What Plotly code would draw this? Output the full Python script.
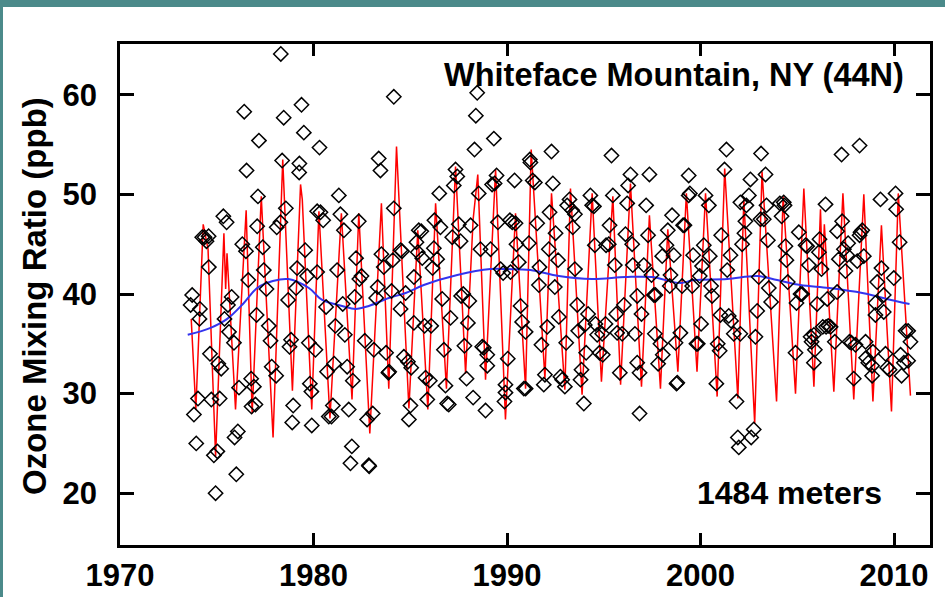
import plotly.graph_objects as go

# Monthly mean ozone observations (decimal year, ppb)
obs_year = [
    1973.65, 1973.73, 1973.82, 1973.94, 1974.03, 1974.11, 1974.13, 1974.25, 1974.37, 1974.47,
    1974.58, 1974.59, 1974.65, 1974.72, 1974.85, 1974.94, 1975.03, 1975.08, 1975.15, 1975.23,
    1975.34, 1975.40, 1975.51, 1975.58, 1975.63, 1975.77, 1975.89, 1975.92, 1976.01, 1976.09,
    1976.15, 1976.32, 1976.42, 1976.51, 1976.54, 1976.63, 1976.78, 1976.80, 1976.92, 1977.00,
    1977.06, 1977.09, 1977.13, 1977.18, 1977.38, 1977.43, 1977.57, 1977.69, 1977.78, 1977.84,
    1978.07, 1978.10, 1978.29, 1978.31, 1978.38, 1978.46, 1978.57, 1978.69, 1978.76, 1978.84,
    1978.90, 1978.95, 1979.10, 1979.15, 1979.26, 1979.27, 1979.38, 1979.50, 1979.57, 1979.67,
    1979.76, 1979.81, 1979.89, 1979.91, 1980.10, 1980.19, 1980.19, 1980.31, 1980.36, 1980.50,
    1980.65, 1980.70, 1980.79, 1980.93, 1981.00, 1981.07, 1981.13, 1981.22, 1981.31, 1981.39,
    1981.51, 1981.57, 1981.62, 1981.74, 1981.82, 1981.91, 1981.98, 1982.03, 1982.13, 1982.20,
    1982.34, 1982.37, 1982.48, 1982.65, 1982.77, 1982.86, 1982.88, 1983.06, 1983.12, 1983.24,
    1983.32, 1983.37, 1983.46, 1983.51, 1983.63, 1983.75, 1983.87, 1983.91, 1984.03, 1984.10,
    1984.15, 1984.15, 1984.50, 1984.58, 1984.50, 1984.76, 1984.67, 1984.88, 1985.05, 1985.01,
    1984.93, 1985.19, 1985.19, 1985.32, 1985.39, 1985.44, 1985.57, 1985.62, 1985.74, 1985.79,
    1985.88, 1986.01, 1986.08, 1986.15, 1986.22, 1986.25, 1986.39, 1986.50, 1986.56, 1986.65,
    1986.74, 1986.82, 1986.91, 1986.99, 1987.08, 1987.17, 1987.25, 1987.34, 1987.43, 1987.51,
    1987.60, 1987.63, 1987.74, 1987.80, 1987.91, 1987.98, 1988.05, 1988.12, 1988.25, 1988.32,
    1988.39, 1988.46, 1988.54, 1988.63, 1988.72, 1988.80, 1988.89, 1988.98, 1988.98, 1989.15,
    1989.23, 1989.32, 1989.36, 1989.46, 1989.53, 1989.67, 1989.80, 1989.87, 1989.92, 1989.92,
    1990.04, 1990.15, 1990.18, 1990.27, 1990.39, 1990.44, 1990.49, 1990.61, 1990.70, 1990.78,
    1990.87, 1990.96, 1990.96, 1991.13, 1991.18, 1991.21, 1991.33, 1991.44, 1991.56, 1991.65,
    1991.68, 1991.78, 1991.90, 1991.96, 1992.08, 1992.16, 1992.20, 1992.30, 1992.37, 1992.47,
    1992.51, 1992.64, 1992.68, 1992.76, 1992.85, 1992.99, 1993.06, 1993.11, 1993.23, 1993.37,
    1993.40, 1993.51, 1993.51, 1993.63, 1993.68, 1993.80, 1993.85, 1993.97, 1994.02, 1994.09,
    1994.19, 1994.31, 1994.40, 1994.49, 1994.54, 1994.57, 1994.66, 1994.78, 1994.92, 1994.95,
    1995.09, 1995.12, 1995.26, 1995.30, 1995.40, 1995.47, 1995.57, 1995.64, 1995.69, 1995.83,
    1995.95, 1996.04, 1996.12, 1996.21, 1996.26, 1996.38, 1996.47, 1996.50, 1996.61, 1996.73,
    1996.73, 1996.85, 1996.85, 1996.95, 1997.07, 1997.19, 1997.29, 1997.36, 1997.47, 1997.59,
    1997.64, 1997.67, 1997.81, 1997.93, 1998.02, 1998.05, 1998.24, 1998.31, 1998.41, 1998.45,
    1998.53, 1998.62, 1998.71, 1998.76, 1998.80, 1998.96, 1999.05, 1999.10, 1999.17, 1999.39,
    1999.39, 1999.45, 1999.57, 1999.62, 1999.79, 1999.86, 1999.96, 2000.03, 2000.08, 2000.17,
    2000.26, 2000.43, 2000.48, 2000.55, 2000.60, 2000.82, 2000.89, 2000.99, 2001.03, 2001.07,
    2001.24, 2001.34, 2001.38, 2001.46, 2001.55, 2001.58, 2001.72, 2001.86, 2001.93, 2001.98,
    2002.06, 2002.06, 2002.15, 2002.27, 2002.32, 2002.37, 2002.50, 2002.58, 2002.62, 2002.75,
    2002.84, 2002.93, 2003.01, 2003.10, 2003.13, 2003.27, 2003.36, 2003.41, 2003.48, 2003.53,
    2003.65, 2004.10, 2004.19, 2004.30, 2004.34, 2004.39, 2004.44, 2004.51, 2004.91, 2004.96,
    2005.08, 2005.17, 2005.25, 2005.43, 2005.51, 2005.60, 2005.69, 2005.74, 2005.86, 2005.91,
    2005.86, 2006.03, 2006.12, 2006.15, 2006.25, 2006.32, 2006.46, 2006.49, 2006.55, 2006.60,
    2006.72, 2006.94, 2007.06, 2007.06, 2007.15, 2007.29, 2007.32, 2007.41, 2007.49, 2007.58,
    2007.63, 2007.70, 2007.80, 2007.92, 2008.01, 2008.10, 2008.22, 2008.22, 2008.27, 2008.36,
    2008.44, 2008.53, 2008.56, 2008.67, 2008.87, 2008.87, 2008.91, 2009.04, 2009.04, 2009.13,
    2009.30, 2009.35, 2009.47, 2009.47, 2009.56, 2009.65, 2009.77, 2009.99, 2010.08, 2010.11,
    2010.29, 2010.34, 2010.39, 2010.51, 2010.60, 2010.73, 2010.73, 2010.85,
]
obs_ppb = [
    38.9, 39.9, 27.9, 25.0, 29.5, 37.5, 38.5, 45.7, 45.7, 45.3,
    45.8, 42.7, 34.0, 29.4, 23.8, 20.0, 24.2, 33.0, 29.5, 32.5,
    47.8, 37.5, 47.2, 38.9, 36.2, 39.7, 35.1, 25.6, 21.9, 26.2,
    30.6, 45.0, 58.3, 44.3, 52.4, 41.4, 31.5, 28.7, 30.7, 28.9,
    37.9, 46.8, 49.8, 55.4, 44.7, 42.4, 40.5, 36.8, 35.3, 32.7,
    31.8, 46.7, 47.2, 64.1, 53.4, 57.7, 48.6, 39.4, 34.7, 35.4,
    27.1, 28.8, 40.6, 42.6, 52.2, 53.1, 59.0, 56.2, 44.4, 41.8,
    35.1, 31.0, 30.2, 26.8, 34.4, 42.2, 48.3, 54.7, 48.2, 47.4,
    38.7, 32.2, 27.7, 27.7, 28.8, 33.0, 36.8, 42.4, 49.9, 48.0,
    39.0, 46.4, 35.9, 32.7, 28.4, 23.0, 24.7, 31.3, 39.7, 43.6,
    47.3, 41.5, 41.8, 35.3, 27.4, 22.8, 22.7, 28.0, 34.4, 39.6,
    40.7, 53.6, 52.4, 44.0, 42.7, 34.1, 32.1, 32.2, 40.3, 43.4,
    48.6, 59.8, 44.4, 44.3, 38.5, 40.1, 33.7, 33.2, 32.6, 28.8,
    27.4, 41.7, 37.1, 45.2, 44.2, 46.4, 46.3, 43.6, 36.8, 31.6,
    29.4, 31.3, 36.8, 42.6, 44.6, 47.4, 43.5, 50.1, 46.7, 39.5,
    34.4, 30.8, 29.0, 28.9, 37.6, 45.7, 50.9, 52.5, 51.8, 47.0,
    45.3, 39.8, 40.0, 34.8, 31.5, 37.1, 39.3, 46.9, 29.6, 54.5,
    57.9, 60.2, 50.1, 44.5, 34.7, 34.6, 28.3, 33.9, 32.8, 44.5,
    51.0, 55.6, 51.1, 51.9, 47.2, 42.5, 42.1, 29.2, 30.9, 30.1,
    33.5, 47.4, 42.2, 47.2, 51.4, 47.1, 45.0, 43.2, 38.8, 37.2,
    30.5, 36.2, 30.5, 45.1, 53.5, 53.2, 51.4, 51.2, 47.1, 40.9,
    42.7, 34.9, 30.9, 31.9, 36.7, 44.5, 48.2, 54.3, 51.1, 40.7,
    46.1, 43.4, 37.7, 31.7, 31.4, 30.7, 35.1, 48.9, 49.5, 48.4,
    46.7, 48.0, 42.5, 38.9, 36.3, 31.4, 32.4, 29.0, 36.9, 34.1,
    38.0, 49.9, 48.9, 48.8, 44.9, 37.0, 35.9, 34.1, 36.0, 33.9,
    37.0, 44.9, 45.0, 46.9, 53.9, 49.9, 42.9, 38.0, 36.1, 32.1,
    36.0, 38.9, 46.0, 49.1, 50.9, 52.0, 45.0, 42.9, 36.0, 39.8,
    33.1, 32.1, 28.0, 38.0, 42.9, 48.9, 45.9, 52.0, 41.9, 39.9,
    36.0, 39.9, 33.0, 35.0, 43.8, 33.9, 44.9, 46.4, 40.8, 41.9,
    47.9, 43.9, 35.1, 31.0, 31.1, 36.1, 40.8, 46.9, 46.9, 49.9,
    51.9, 50.1, 40.8, 43.9, 35.0, 35.0, 41.8, 37.0, 42.8, 44.9,
    49.9, 48.9, 43.8, 40.8, 39.8, 31.0, 35.0, 34.3, 37.9, 45.9,
    52.5, 54.5, 42.4, 37.8, 43.9, 37.3, 36.0, 29.2, 25.6, 24.6,
    36.0, 49.2, 45.0, 46.1, 47.3, 48.9, 49.9, 51.5, 25.6, 26.4,
    35.7, 38.3, 41.7, 47.5, 54.1, 47.5, 52.0, 48.9, 45.4, 40.6,
    39.2, 49.1, 47.8, 49.2, 48.9, 44.8, 43.4, 41.2, 34.1, 39.1,
    46.2, 40.0, 40.0, 44.9, 44.8, 42.9, 35.7, 35.2, 35.9, 34.4,
    33.1, 39.0, 44.2, 45.5, 42.5, 36.7, 49.0, 36.7, 39.5, 36.8,
    36.7, 35.2, 40.2, 46.3, 43.5, 54.0, 47.3, 44.5, 42.3, 43.9,
    45.1, 35.2, 35.1, 31.5, 34.9, 43.3, 54.9, 45.9, 46.2, 46.4,
    43.8, 35.2, 33.6, 33.1, 32.8, 31.8, 34.2, 39.1, 37.9, 41.2,
    49.5, 42.6, 39.9, 38.2, 34.0, 32.6, 32.4, 41.6, 50.1, 48.5,
    45.2, 33.9, 31.8, 33.1, 36.3, 36.3, 33.3, 35.2,
]

# Seasonal fit (red): turning points of the fitted monthly curve
fit_year = [
    1973.68, 1973.92, 1974.30, 1974.47, 1974.55, 1974.94, 1975.37, 1975.46, 1975.53, 1975.97,
    1976.52, 1976.83, 1977.30, 1977.91, 1978.41, 1978.91, 1979.33, 1979.42, 1979.91, 1980.28,
    1980.85, 1981.44, 1981.99, 1982.34, 1982.91, 1983.51, 1983.89, 1984.29, 1984.93, 1985.39,
    1985.91, 1986.31, 1986.87, 1987.34, 1987.86, 1988.25, 1988.49, 1988.89, 1989.41, 1989.92,
    1990.44, 1990.96, 1991.25, 1991.96, 1992.30, 1992.99, 1993.28, 1993.88, 1994.40, 1994.88,
    1995.47, 1995.87, 1996.38, 1996.95, 1997.36, 1997.93, 1998.31, 1998.83, 1999.27, 1999.82,
    2000.26, 2000.86, 2001.25, 2001.93, 2002.24, 2002.80, 2003.18, 2003.93, 2004.27, 2004.91,
    2005.34, 2005.86, 2006.20, 2006.30, 2006.40, 2006.89, 2007.36, 2007.92, 2008.44, 2008.91,
    2009.35, 2009.87, 2010.22, 2010.85,
]
fit_ppb = [
    37.5, 28.4, 47.0, 45.3, 44.5, 23.7, 46.1, 40.5, 44.1, 28.4,
    48.4, 28.0, 49.8, 25.6, 53.5, 30.3, 51.0, 49.5, 28.4, 48.3,
    27.5, 48.1, 29.4, 48.1, 26.0, 49.1, 30.5, 54.8, 28.5, 46.4,
    28.4, 49.1, 30.5, 52.8, 32.0, 47.5, 52.0, 31.4, 52.5, 27.4,
    48.1, 30.5, 54.5, 31.5, 50.1, 30.4, 50.6, 29.9, 50.1, 31.2,
    49.8, 30.9, 51.1, 30.7, 47.9, 30.5, 46.5, 32.2, 50.1, 32.2,
    50.1, 29.7, 52.6, 29.5, 49.5, 27.0, 52.3, 29.2, 49.8, 30.0,
    50.6, 30.7, 48.5, 42.0, 47.0, 30.2, 50.1, 29.4, 50.0, 29.2,
    46.9, 28.2, 50.1, 29.8,
]

# Long-term smoothed trend (blue)
trend_year = [
    1973.50, 1974.68, 1975.54, 1976.40, 1977.09, 1977.90, 1978.70, 1979.76, 1980.45, 1981.48,
    1982.17, 1982.86, 1983.89, 1984.76, 1985.70, 1987.43, 1989.15, 1990.01, 1991.21, 1992.68,
    1994.40, 1996.12, 1997.50, 1998.96, 1999.65, 2001.38, 2002.93, 2003.96, 2005.16, 2006.63,
    2008.36, 2010.08, 2010.80,
]
trend_ppb = [
    35.9, 36.6, 37.5, 39.1, 40.6, 41.3, 41.5, 40.6, 39.4, 38.8,
    38.5, 38.8, 39.6, 40.1, 40.9, 41.9, 42.5, 42.5, 42.4, 41.8,
    41.5, 41.7, 41.7, 41.1, 41.4, 41.5, 41.8, 41.4, 40.9, 40.6,
    40.1, 39.3, 39.0,
]

x_ticks = [1970, 1980, 1990, 2000, 2010]
y_ticks = [20, 30, 40, 50, 60]

fig = go.Figure()
fig.add_trace(go.Scatter(x=fit_year, y=fit_ppb, mode="lines",
                         line=dict(color="#ff0000", width=1.5), hoverinfo="skip"))
fig.add_trace(go.Scatter(x=trend_year, y=trend_ppb, mode="lines",
                         line=dict(color="#3333ee", width=2, shape="spline", smoothing=1.0),
                         hoverinfo="skip"))
fig.add_trace(go.Scatter(x=obs_year, y=obs_ppb, mode="markers",
                         marker=dict(symbol="diamond-open", size=11, color="black",
                                     line=dict(width=1.5, color="black"))))

W, H = 945, 597
L, R, T, B = 120, 15, 44, 52
pw, ph = W - L - R, H - T - B


def px_x(px):
    return (px - L) / pw


def px_y(py):
    return (H - B - py) / ph


teal = "#4b8a8a"
fig.add_shape(type="rect", xref="paper", yref="paper", x0=px_x(-5), x1=px_x(W + 5),
              y0=px_y(7), y1=px_y(-5), fillcolor=teal, line_width=0, layer="above")
fig.add_shape(type="rect", xref="paper", yref="paper", x0=px_x(-5), x1=px_x(3),
              y0=px_y(H + 5), y1=px_y(-5), fillcolor=teal, line_width=0, layer="above")

bold = dict(family="Liberation Sans, Arial, sans-serif", weight="bold", color="black")

fig.add_annotation(text="Whiteface Mountain, NY (44N)", xref="paper", yref="paper",
                   x=px_x(906), y=px_y(75), xanchor="right", yanchor="middle",
                   showarrow=False, font=dict(size=32.5, **bold))
fig.add_annotation(text="1484 meters", xref="paper", yref="paper",
                   x=px_x(884), y=px_y(493), xanchor="right", yanchor="middle",
                   showarrow=False, font=dict(size=32, **bold))
fig.add_annotation(text="Ozone Mixing Ratio (ppb)", xref="paper", yref="paper",
                   x=px_x(34), y=px_y(296), xanchor="center", yanchor="middle",
                   textangle=-90, showarrow=False, font=dict(size=33, **bold))

fig.update_layout(
    width=W, height=H,
    margin=dict(l=L, r=R, t=T, b=B, autoexpand=False),
    paper_bgcolor="white", plot_bgcolor="white",
    showlegend=False,
    xaxis=dict(range=[1970, 2011.86], tickvals=x_ticks, ticktext=[str(v) for v in x_ticks],
               ticks="inside", ticklen=12, tickwidth=2.5, tickcolor="black",
               showline=True, linewidth=2.5, linecolor="black", mirror="ticks",
               showgrid=False, zeroline=False, ticklabelstandoff=1, automargin=False,
               tickfont=dict(family="Liberation Sans Narrow, Arial Narrow, Liberation Sans",
                             weight="bold", size=31, color="black")),
    yaxis=dict(range=[14.8, 65.1], tickvals=y_ticks,
               ticks="inside", ticklen=14, tickwidth=2.5, tickcolor="black",
               showline=True, linewidth=2.5, linecolor="black", mirror="ticks",
               showgrid=False, zeroline=False, ticklabelstandoff=14, automargin=False,
               tickfont=dict(size=31, **bold)),
)

fig.write_html("out.html")
